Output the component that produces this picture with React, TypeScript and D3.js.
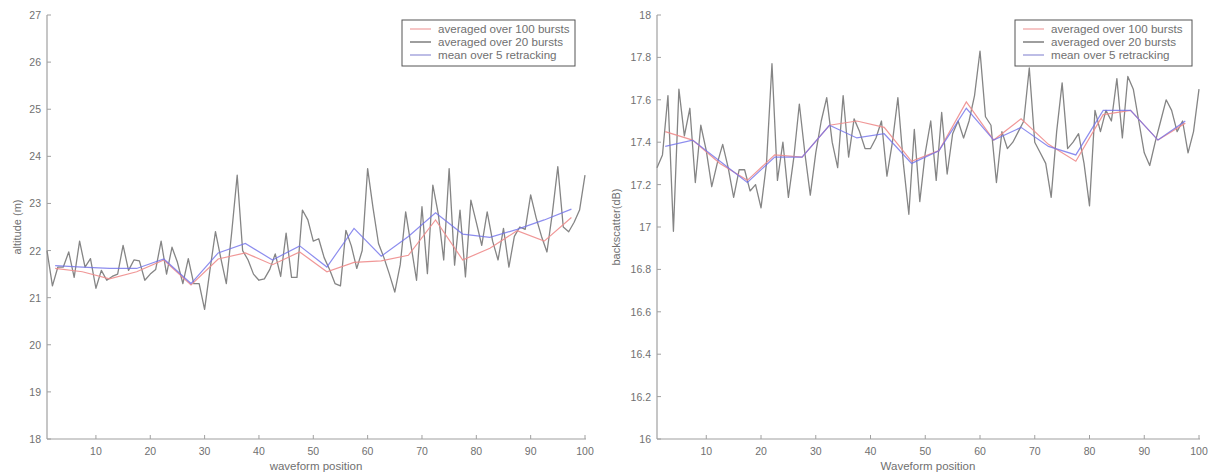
import React from "react";
import * as d3 from "d3";

// ---------- DATA ----------
const positions: number[] = d3.range(1, 101);
const avgPositions: number[] = d3.range(0, 20).map((k) => 2.5 + 5 * k);

const altitudeRaw: number[] = [
  22.0, 21.25, 21.65, 21.65, 21.97, 21.43, 22.2, 21.65, 21.83, 21.2,
  21.58, 21.37, 21.45, 21.5, 22.11, 21.58, 21.8, 21.78, 21.37, 21.5,
  21.6, 22.2, 21.5, 22.07, 21.75, 21.3, 21.83, 21.3, 21.3, 20.75,
  21.6, 22.4, 21.83, 21.3, 22.4, 23.6, 22.0, 21.8, 21.5, 21.37,
  21.4, 21.6, 21.93, 21.45, 22.37, 21.43, 21.43, 22.86, 22.65, 22.2,
  22.25, 21.85, 21.6, 21.3, 21.25, 22.43, 22.1, 21.62, 22.0, 23.74,
  22.9, 22.15, 21.85, 21.5, 21.12, 21.7, 22.82, 22.1, 21.37, 22.93,
  21.51, 23.39, 22.78, 21.8, 23.74, 21.69, 22.86, 21.44, 23.07, 22.6,
  22.11, 22.82, 22.2, 21.8, 22.47, 21.65, 22.3, 22.5, 22.45, 23.18,
  22.7, 22.3, 21.97, 22.8, 23.78, 22.5, 22.4, 22.6, 22.86, 23.6,
];
const altitude100: number[] = [
  21.62, 21.55, 21.4, 21.55, 21.8, 21.27, 21.82, 21.95, 21.7, 21.97,
  21.55, 21.75, 21.78, 21.9, 22.65, 21.8, 22.05, 22.42, 22.2, 22.7,
];
const altitude5: number[] = [
  21.68, 21.65, 21.62, 21.62, 21.82, 21.3, 21.95, 22.15, 21.8, 22.1,
  21.65, 22.47, 21.88, 22.3, 22.8, 22.35, 22.28, 22.45, 22.65, 22.88,
];

const backscatterRaw: number[] = [
  17.28, 17.34, 17.62, 16.98, 17.65, 17.43, 17.56, 17.21, 17.48, 17.36,
  17.19, 17.3, 17.39, 17.28, 17.14, 17.27, 17.27, 17.17, 17.2, 17.09,
  17.3, 17.77, 17.22, 17.4, 17.14, 17.33, 17.58, 17.35, 17.15, 17.35,
  17.5, 17.61, 17.4, 17.28, 17.62, 17.33, 17.51, 17.45, 17.37, 17.37,
  17.42, 17.5, 17.24, 17.4, 17.61, 17.3, 17.06, 17.46, 17.12, 17.35,
  17.5, 17.22, 17.54, 17.25, 17.44, 17.5, 17.42, 17.5, 17.62, 17.83,
  17.52, 17.48, 17.21, 17.45, 17.37, 17.4, 17.45, 17.5, 17.75, 17.4,
  17.35, 17.3, 17.14, 17.45, 17.68, 17.37, 17.4, 17.44, 17.3, 17.1,
  17.55, 17.45, 17.55, 17.5, 17.7, 17.42, 17.71, 17.65, 17.5, 17.35,
  17.29, 17.4, 17.5, 17.6, 17.55, 17.45, 17.5, 17.35, 17.45, 17.65,
];
const backscatter100: number[] = [
  17.45, 17.41, 17.3, 17.22, 17.34, 17.33, 17.48, 17.5, 17.47, 17.31,
  17.36, 17.59, 17.41, 17.51, 17.39, 17.31, 17.53, 17.55, 17.41, 17.49,
];
const backscatter5: number[] = [
  17.38, 17.41, 17.31, 17.21, 17.33, 17.33, 17.48, 17.42, 17.44, 17.3,
  17.36, 17.56, 17.41, 17.47, 17.38, 17.34, 17.55, 17.55, 17.41, 17.5,
];

const xTicks: number[] = [10, 20, 30, 40, 50, 60, 70, 80, 90, 100];
const altTicks: number[] = [18, 19, 20, 21, 22, 23, 24, 25, 26, 27];
const bsTicks: number[] = [16, 16.2, 16.4, 16.6, 16.8, 17, 17.2, 17.4, 17.6, 17.8, 18];
const legendLabels: string[] = [
  "averaged over 100 bursts",
  "averaged over 20 bursts",
  "mean over 5 retracking",
];

// ---------- STYLE ----------
const FONT = "'Liberation Sans', Arial, sans-serif";
const AXIS = "#a0a0a0";
const TEXT = "#707070";
const GRAY = "#858585";
const RED = "#ee8c8c";
const BLUE = "#7070ea";
const LEGEND_COLORS = ["#f2a7a7", "#6a6a6a", "#9a9ad8"];

type PanelProps = {
  x0: number;
  x1: number;
  yTop: number;
  yBot: number;
  yDomain: [number, number];
  yTicks: number[];
  yFmt: (v: number) => string;
  raw: number[];
  avg100: number[];
  avg5: number[];
  xTitle: string;
  yTitle: string;
  yTitleX: number;
  legendX: number;
  legendW: number;
};

function Panel(p: PanelProps) {
  const x = d3.scaleLinear().domain([1, 100]).range([p.x0, p.x1]);
  const y = d3.scaleLinear().domain(p.yDomain).range([p.yBot, p.yTop]);
  const lineRaw = d3
    .line<number>()
    .x((_, i) => x(positions[i]))
    .y((d) => y(d));
  const lineAvg = d3
    .line<number>()
    .x((_, i) => x(avgPositions[i]))
    .y((d) => y(d));

  const legY = 20;
  const legH = 46;
  return (
    <g fontFamily={FONT}>
      {/* axes */}
      <line x1={p.x0} x2={p.x0} y1={p.yTop} y2={p.yBot} stroke={AXIS} strokeWidth={1.2} />
      <line x1={p.x0} x2={p.x1 + 1} y1={p.yBot} y2={p.yBot} stroke={AXIS} strokeWidth={1.2} />
      {p.yTicks.map((t) => (
        <g key={"y" + t}>
          <line x1={p.x0} x2={p.x0 + 4} y1={y(t)} y2={y(t)} stroke={AXIS} />
          <text x={p.x0 - 6} y={y(t) + 4} textAnchor="end" fontSize={10.5} fill={TEXT}>
            {p.yFmt(t)}
          </text>
        </g>
      ))}
      {xTicks.map((t) => (
        <g key={"x" + t}>
          <line x1={x(t)} x2={x(t)} y1={p.yBot} y2={p.yBot - 4} stroke={AXIS} />
          <text x={x(t)} y={p.yBot + 16} textAnchor="middle" fontSize={10.5} fill={TEXT}>
            {t}
          </text>
        </g>
      ))}
      <text
        x={(p.x0 + p.x1) / 2}
        y={p.yBot + 31}
        textAnchor="middle"
        fontSize={11.5}
        fill={TEXT}
      >
        {p.xTitle}
      </text>
      <text
        transform={`translate(${p.yTitleX},${(p.yTop + p.yBot) / 2}) rotate(-90)`}
        textAnchor="middle"
        fontSize={11}
        fill={TEXT}
      >
        {p.yTitle}
      </text>

      {/* data */}
      <path d={lineRaw(p.raw) || ""} fill="none" stroke={GRAY} strokeWidth={1.3} strokeLinejoin="round" />
      <path d={lineAvg(p.avg100) || ""} fill="none" stroke={RED} strokeWidth={1.2} opacity={0.9} />
      <path d={lineAvg(p.avg5) || ""} fill="none" stroke={BLUE} strokeWidth={1.2} opacity={0.8} />

      {/* legend */}
      <rect x={p.legendX} y={legY} width={p.legendW} height={legH} fill="white" stroke="#555" strokeWidth={1} />
      {legendLabels.map((l, i) => (
        <g key={l}>
          <line
            x1={p.legendX + 8}
            x2={p.legendX + 29}
            y1={legY + 9 + i * 13}
            y2={legY + 9 + i * 13}
            stroke={LEGEND_COLORS[i]}
            strokeWidth={1.3}
          />
          <text x={p.legendX + 36} y={legY + 13 + i * 13} fontSize={11.6} fill={TEXT}>
            {l}
          </text>
        </g>
      ))}
    </g>
  );
}

export default function App() {
  return (
    <svg
      width={1214}
      height={475}
      style={{ position: "absolute", left: 0, top: 0, background: "white" }}
    >
      <rect width={1214} height={475} fill="white" />
      <Panel
        x0={47}
        x1={585}
        yTop={15}
        yBot={439}
        yDomain={[18, 27]}
        yTicks={altTicks}
        yFmt={(v) => String(v)}
        raw={altitudeRaw}
        avg100={altitude100}
        avg5={altitude5}
        xTitle="waveform position"
        yTitle="altitude (m)"
        yTitleX={21}
        legendX={402}
        legendW={173}
      />
      <Panel
        x0={657}
        x1={1199}
        yTop={15}
        yBot={439}
        yDomain={[16, 18]}
        yTicks={bsTicks}
        yFmt={(v) => String(Math.round(v * 10) / 10)}
        raw={backscatterRaw}
        avg100={backscatter100}
        avg5={backscatter5}
        xTitle="Waveform position"
        yTitle="backscatter(dB)"
        yTitleX={620}
        legendX={1015}
        legendW={177}
      />
    </svg>
  );
}
